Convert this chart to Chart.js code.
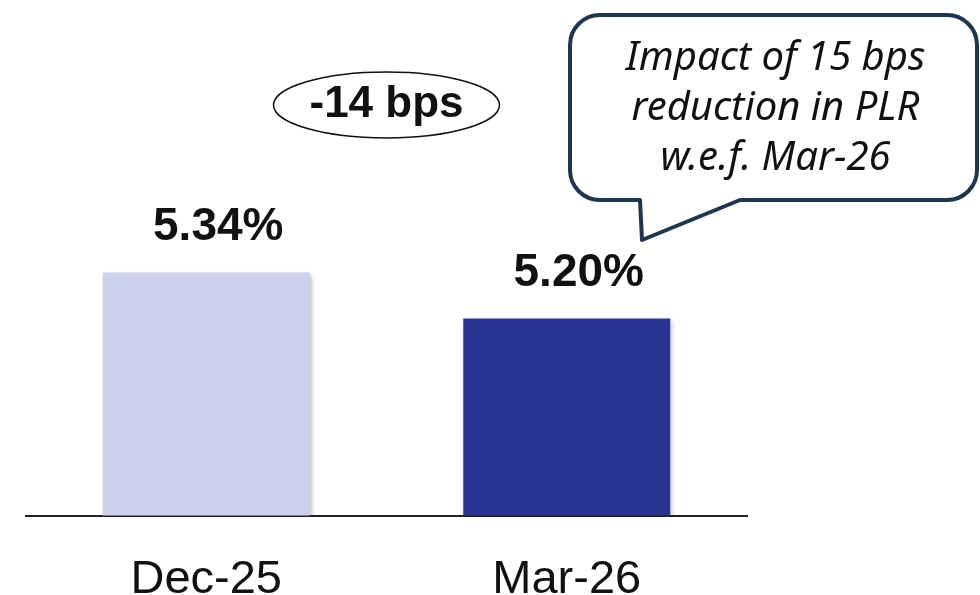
<!DOCTYPE html>
<html>
<head>
<meta charset="utf-8">
<script src="https://cdn.jsdelivr.net/npm/chart.js@4"></script>
<style>
  html, body { margin: 0; padding: 0; background: #fff; }
  #wrap { width: 980px; height: 595px; }
</style>
</head>
<body>
<div id="wrap"><canvas id="plrChart" width="980" height="595"></canvas></div>
<script>
// data
const quarters = ['Dec-25', 'Mar-26'];
const plrValues = [5.34, 5.20];
const valueLabels = ['5.34%', '5.20%'];
const barColors = ['#CDD1EE', '#283593'];
const changeText = '-14 bps';
const calloutLines = ['Impact of 15 bps', 'reduction in PLR', 'w.e.f. Mar-26'];

// soft shadow under the bars
const barShadow = {
  id: 'barShadow',
  beforeDatasetsDraw(chart) {
    const c = chart.ctx;
    c.save();
    c.shadowColor = 'rgba(0,0,0,0.28)';
    c.shadowBlur = 5;
    c.shadowOffsetX = 2;
    c.shadowOffsetY = 2;
  },
  afterDatasetsDraw(chart) {
    chart.ctx.restore();
  }
};

// value labels, the bps ellipse and the speech bubble
const annotations = {
  id: 'annotations',
  afterDraw(chart) {
    const c = chart.ctx;
    const meta = chart.getDatasetMeta(0);

    c.save();
    c.fillStyle = '#111';
    c.font = 'bold 46px "Liberation Sans", Arial, sans-serif';
    c.textAlign = 'center';
    c.textBaseline = 'middle';
    meta.data.forEach((bar, i) => {
      c.fillText(valueLabels[i], bar.x + 12, bar.y - 45);
    });

    // ellipse with the change
    const ex = (meta.data[0].x + meta.data[1].x) / 2;
    c.beginPath();
    c.ellipse(ex, 105, 113, 33, 0, 0, Math.PI * 2);
    c.lineWidth = 1.5;
    c.strokeStyle = '#111';
    c.stroke();
    c.font = 'bold 44px "Liberation Sans", Arial, sans-serif';
    c.fillText(changeText, ex, 105);

    // speech bubble
    const L = 570, T = 15, R = 977, B = 200, r = 30;
    c.beginPath();
    c.moveTo(L + r, T);
    c.lineTo(R - r, T);
    c.arcTo(R, T, R, T + r, r);
    c.lineTo(R, B - r);
    c.arcTo(R, B, R - r, B, r);
    c.lineTo(740, B);
    c.lineTo(642, 240);
    c.lineTo(640, B);
    c.lineTo(L + r, B);
    c.arcTo(L, B, L, B - r, r);
    c.lineTo(L, T + r);
    c.arcTo(L, T, L + r, T, r);
    c.closePath();
    c.fillStyle = '#fff';
    c.fill();
    c.lineWidth = 4;
    c.strokeStyle = '#1F3652';
    c.lineJoin = 'round';
    c.stroke();

    c.fillStyle = '#111';
    c.font = 'italic 40px "Noto Sans", "Open Sans", sans-serif';
    calloutLines.forEach((t, i) => {
      c.fillText(t, (L + R) / 2 + 2, 59 + i * 50);
    });
    c.restore();
  }
};

new Chart(document.getElementById('plrChart'), {
  type: 'bar',
  data: {
    labels: quarters,
    datasets: [{
      data: plrValues,
      backgroundColor: barColors,
      borderWidth: 0,
      categoryPercentage: 0.574,
      barPercentage: 1.0
    }]
  },
  options: {
    responsive: false,
    animation: false,
    layout: { padding: { top: 23, left: 26, right: 233, bottom: -49 } },
    plugins: {
      legend: { display: false },
      tooltip: { enabled: false }
    },
    scales: {
      x: {
        grid: { display: false, drawTicks: false },
        border: { display: true, color: '#222', width: 2 },
        ticks: {
          color: '#111',
          padding: 36,
          font: { family: '"Liberation Sans", Arial, sans-serif', size: 47 }
        }
      },
      y: {
        display: false,
        min: 4.6,
        max: 6.1
      }
    }
  },
  plugins: [barShadow, annotations]
});
</script>
</body>
</html>
